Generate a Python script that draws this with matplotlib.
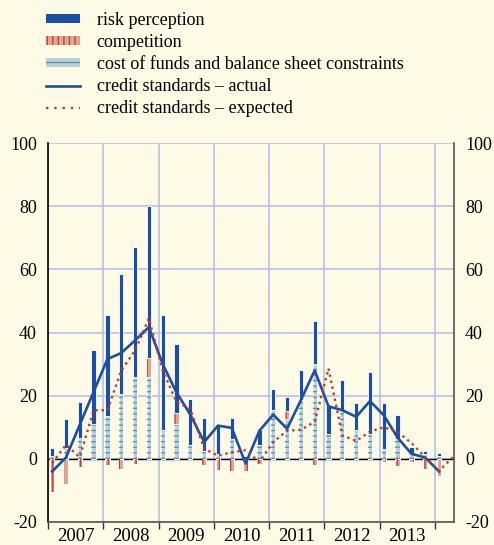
import numpy as np
import matplotlib
matplotlib.use("Agg")
import matplotlib.pyplot as plt
from matplotlib.patches import Patch
from matplotlib.lines import Line2D

# quarterly data, 2007Q1 - 2014Q1 (expected runs one quarter longer)
quarters = [f"{y}Q{q}" for y in range(2007, 2015) for q in range(1, 5)][:30]

risk = [2.3, 9, 11.5, 23.5, 32, 38, 41, 48, 36.5, 22,
        14.5, 10.3, 9.3, 6.5, 1, 4.5, 6.5, 4.5, 9.5, 13.5,
        9, 10, 8.7, 19.5, 14.5, 7.8, 2.2, 1.0, 1.2]
competition = [-10.5, -8, -2.5, 0, -2, -3.2, -1.5, 6, 0, 3.5,
               0, -2, -3.5, -3.8, -4, -1.5, 0, 2.5, 0, -2,
               0, 0, 0, 0, -1, -2.2, -1, -3.2, -5.5]
cost = [1, 3.5, 6.5, 11, 13.5, 20.5, 26, 26, 9, 11,
        4.5, 2.5, 1.5, 6.3, 0, 4.5, 15.5, 12.5, 18.5, 30,
        8, 15, 9, 8, 3.2, 6.2, 1.5, 1.5, 0.8]
actual = [-4, 0.4, 10.8, 21.2, 31.6, 33.5, 37.5, 41.7, 30, 21,
          14, 5.3, 10.5, 9.8, -1.5, 8.9, 14, 9.5, 18.6, 28,
          16.6, 15.4, 13.3, 18.3, 13.8, 6.7, 1.6, 0.4, -4]
expected = [-1.3, 4.4, 0.5, 15.4, 15.4, 27.9, 34.3, 44.5, 28, 18,
            15.8, 3.2, 1, 2.1, 2.7, -1, 5.3, 8.9, 9.2, 11.7,
            28.6, 7.4, 5.7, 8.6, 10, 8.5, 5, 0.5, -3.8, 0.5]

years = list(range(2007, 2014))

bg = "#fdfbe5"
c_risk = "#1c4fa1"
c_comp = "#e4a595"
c_comp_h = "#c0392b"
c_cost = "#b9d0da"
c_cost_h = "#5a8fa2"
c_grid = "#b7c2e6"

plt.rcParams["font.family"] = ["Liberation Serif", "DejaVu Serif"]
plt.rcParams["hatch.linewidth"] = 0.9
plt.rcParams["axes.unicode_minus"] = False

fig = plt.figure(figsize=(4.94, 5.45), dpi=100, facecolor=bg)
ax = fig.add_axes([48 / 494, 23 / 545, 406 / 494, 379 / 545], facecolor=bg)

def qpos(label):
    return int(label[:4]) + (int(label[-1]) - 1) * 0.25 + 0.075

x_all = np.array([qpos(q) for q in quarters])
x = x_all[:len(risk)]
w = 0.078

risk = np.array(risk)
competition = np.array(competition)
cost = np.array(cost)

pos_base = np.zeros(len(x))
neg_base = np.zeros(len(x))
for vals, fc, hc, hatch in [(cost, c_cost, c_cost_h, "---"),
                            (competition, c_comp, c_comp_h, "|||"),
                            (risk, c_risk, None, None)]:
    pos = np.where(vals > 0, vals, 0)
    neg = np.where(vals < 0, vals, 0)
    for part, base in [(pos, pos_base), (neg, neg_base)]:
        ax.bar(x, part, w, bottom=base, color=fc, edgecolor="white",
               linewidth=0.6, zorder=3)
        if hatch:
            ax.bar(x, part, w, bottom=base, color="none", edgecolor=hc,
                   linewidth=0, hatch=hatch, zorder=3)
    pos_base = pos_base + pos
    neg_base = neg_base + neg

ax.axhline(0, color="black", lw=1.0, zorder=2)
ax.plot(x, actual, color=c_risk, lw=1.9, zorder=5)
ax.plot(x_all[:len(expected)], expected, color=c_comp_h, lw=1.7,
        linestyle=(0, (1, 1.6)), zorder=5)

ax.set_xlim(2007, 2014.345)
ax.set_ylim(-20, 100)
ax.set_yticks(range(-20, 101, 20))
ax.set_xticks(years + [2014])
ax.set_xticklabels([])
ax.set_xticks([y + 0.5 for y in years], [str(y) for y in years], minor=True)
ax.tick_params(axis="x", which="major", direction="out", length=5,
               width=1, color="#333333")
ax.tick_params(axis="x", which="minor", length=0, labelsize=13.5, pad=4)
ax.tick_params(axis="y", which="both", length=0, labelsize=13,
               labelleft=True, labelright=True, pad=8)

ax.grid(True, which="major", color=c_grid, lw=1.2, zorder=0)
ax.set_axisbelow(True)
ax.spines["top"].set_visible(False)
ax.spines["left"].set_color("black")
ax.spines["right"].set_color("#555555")
ax.spines["bottom"].set_color("#555555")
for s in ["left", "right", "bottom"]:
    ax.spines[s].set_linewidth(1.2)

handles = [
    Patch(facecolor=c_risk, edgecolor="none"),
    Patch(facecolor=c_comp, edgecolor=c_comp_h, hatch="|||", linewidth=0),
    Patch(facecolor=c_cost, edgecolor=c_cost_h, hatch="--", linewidth=0),
    Line2D([], [], color=c_risk, lw=1.9),
    Line2D([], [], color=c_comp_h, lw=1.7, linestyle=(0, (1, 2.5))),
]
labels = ["risk perception", "competition",
          "cost of funds and balance sheet constraints",
          "credit standards \u2013 actual", "credit standards \u2013 expected"]
fig.legend(handles, labels, loc="upper left", bbox_to_anchor=(46 / 494, 1 - 12 / 545),
           frameon=False, fontsize=13, handlelength=1.9, handleheight=0.35,
           handletextpad=0.9, labelspacing=0.28, borderaxespad=0,
           borderpad=0)

fig.savefig("out.png", dpi=100, facecolor=bg)
